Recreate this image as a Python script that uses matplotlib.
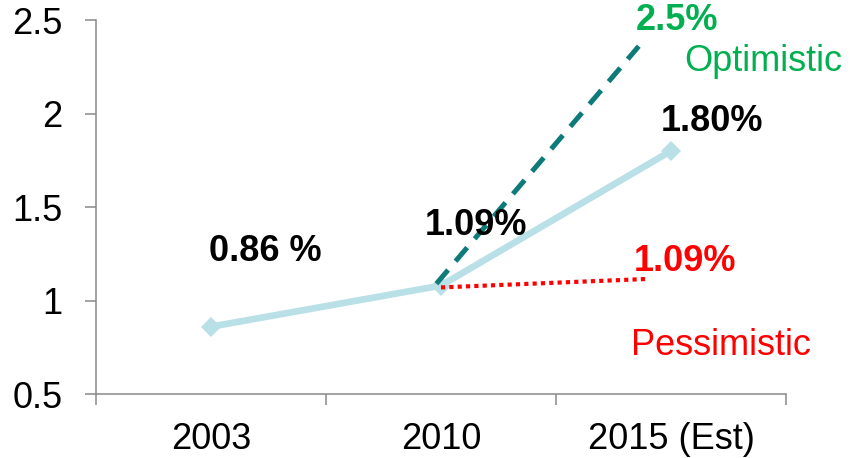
import matplotlib
matplotlib.use("Agg")
import matplotlib.pyplot as plt
from matplotlib.ticker import FixedLocator

plt.rcParams["font.family"] = ["Liberation Sans", "DejaVu Sans"]

# data
years = ["2003", "2010", "2015 (Est)"]
growth = [0.86, 1.08, 1.80]
optimistic_x = [0.98, 1.86]
optimistic_y = [1.09, 2.36]
pessimistic_x = [1.0, 1.89]
pessimistic_y = [1.07, 1.115]
y_ticks = [0.5, 1, 1.5, 2, 2.5]
y_tick_labels = ["0.5", "1", "1.5", "2", "2.5"]

AXIS_GRAY = "#898989"
LINE_BLUE = "#b9dfe7"
TEAL = "#0d7b7a"
GREEN = "#00b050"
RED = "#ff0000"
FS = 26

fig = plt.figure(figsize=(8.5, 4.58), dpi=100)
ax = fig.add_axes([0.1129, 0.1397, 0.8118, 0.8166])

x = list(range(len(years)))
ax.plot(x, growth, color=LINE_BLUE, linewidth=4.8, marker="D",
        markersize=10, markeredgewidth=0, zorder=2)
ax.plot(optimistic_x, optimistic_y, color=TEAL, linewidth=3.6,
        dashes=(3.6, 2.3), zorder=3)
ax.plot(pessimistic_x, pessimistic_y, color=RED, linewidth=3,
        dashes=(1, 1), zorder=3)

# annotations
ax.text(0.235, 1.26, "0.86 %", fontsize=FS, fontweight="bold", ha="center", va="center")
ax.text(1.152, 1.40, "1.09%", fontsize=FS, fontweight="bold", ha="center", va="center")
ax.text(2.18, 1.955, "1.80%", fontsize=FS, fontweight="bold", ha="center", va="center")
ax.text(2.026, 2.495, "2.5%", fontsize=FS, fontweight="bold", color=GREEN,
        ha="center", va="center", clip_on=False)
ax.text(2.40, 2.28, "Optimistic", fontsize=FS, color=GREEN, ha="center", va="center",
        clip_on=False)
ax.text(2.06, 1.206, "1.09%", fontsize=FS, fontweight="bold", color=RED,
        ha="center", va="center")
ax.text(2.217, 0.762, "Pessimistic", fontsize=FS, color=RED, ha="center", va="center",
        clip_on=False)

# axes styling
ax.set_xlim(-0.5, 2.5)
ax.set_ylim(0.5, 2.5)
ax.set_xticks(x)
ax.set_xticklabels(years)
ax.xaxis.set_minor_locator(FixedLocator([-0.5, 0.5, 1.5, 2.5]))
ax.tick_params(axis="x", which="major", length=0, pad=20, labelsize=FS)
ax.tick_params(axis="x", which="minor", length=8, width=1.1, color=AXIS_GRAY, direction="out")
ax.set_yticks(y_ticks)
ax.set_yticklabels(y_tick_labels)
ax.tick_params(axis="y", length=8, width=1.1, color=AXIS_GRAY, pad=16, labelsize=FS)

ax.spines[["top", "right"]].set_visible(False)
for side in ["left", "bottom"]:
    ax.spines[side].set_color(AXIS_GRAY)
    ax.spines[side].set_linewidth(1.1)

fig.savefig("out.png", dpi=100)
